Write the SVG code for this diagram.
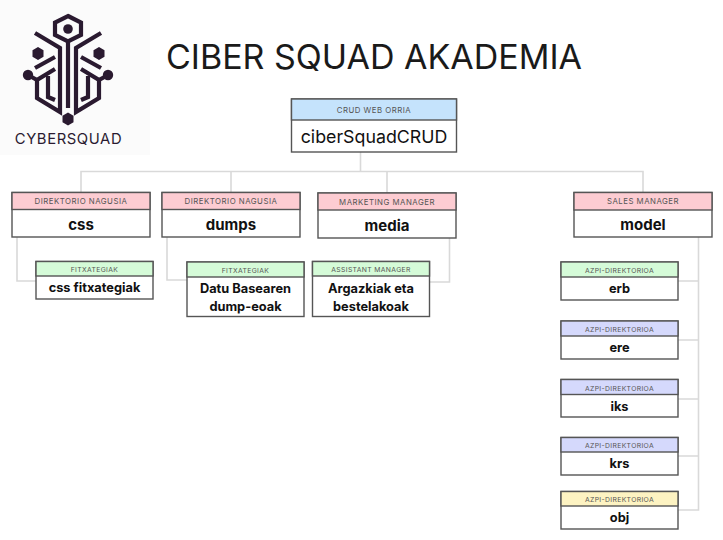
<svg xmlns="http://www.w3.org/2000/svg" width="723" height="540" viewBox="0 0 723 540">
<style>
text{font-family:Inter,"Liberation Sans",sans-serif;text-anchor:middle;fill:#111}
.box,.blue,.pink,.green,.lav,.yel{stroke:#555;stroke-width:1.4}
.box{fill:#fff}
.c{fill:none;stroke:#d9d9d9;stroke-width:1.6}
.l{font-size:7.800px;letter-spacing:.5px;fill:#555}
.s{font-size:6.800px;letter-spacing:.36px;fill:#555}
.b{font-size:15px;font-weight:700}
.m{font-size:12.800px;font-weight:700}
.blue{fill:#c5e3fc}.pink{fill:#fdccd2}.green{fill:#d5fbd8}.lav{fill:#d5d9fc}.yel{fill:#fdf3c2}
.lg{fill:none;stroke:#2a1a30;stroke-width:4.200}
.ld{fill:#2a1a30}
</style>
<rect width="723" height="540" fill="#fff"/>
<g id="logo">
<rect x="0" y="0" width="150" height="155" fill="#fbfbfb"/>
<path class="lg" d="M68 16L81 22.500V35L68 41.500L55 35V22.500Z"/>
<circle class="ld" cx="68" cy="29" r="4.800"/>
<path class="lg" d="M68 41V108"/>
<path class="lg" d="M35 33L60 48V112L37 98V80L55 69M48 76V97L55 100M35 68L55 57"/>
<path class="lg" d="M101 33L76 48V112L99 98V80L81 69M88 76V97L81 100M101 68L81 57"/>
<path class="ld" d="M38 47L43.500 50.200V56.800L38 60L32.500 56.800V50.200ZM99 47L104.500 50.200V56.800L99 60L93.500 56.800V50.200ZM68 112.500L73.500 115.700V122.300L68 125.500L62.500 122.300V115.700Z"/>
<circle class="ld" cx="28" cy="75" r="5.200"/>
<circle class="ld" cx="108" cy="75" r="5.200"/>
<path class="lg" d="M28 75L37 80M108 75L99 80"/>
<text x="68.500" y="144" style="font-size:14.800px;letter-spacing:.6px;fill:#2a1a30">CYBERSQUAD</text>
</g>
<text id="title" x="374" y="69" style="font-size:34px;fill:#1a1a1a">CIBER SQUAD AKADEMIA</text>
<g id="connectors">
<path class="c" d="M360.500 152V171.500M81 192V171.500H643V192M231 171.500V192M387 171.500V193"/>
<path class="c" d="M17 237V281H36M167 237V280H187M449.500 238V282H430"/>
<path class="c" d="M698.500 237V510H678M678 281H698.500M678 340H698.500M678 399H698.500M678 456H698.500"/>
</g>
<g id="root"><rect class="box" x="291.500" y="99" width="165" height="53"/><rect class="blue" x="291.500" y="99" width="165" height="21"/><text class="l" x="374" y="113">CRUD WEB ORRIA</text><text x="374" y="143" style="font-size:17.800px">ciberSquadCRUD</text></g>
<g id="css"><rect class="box" x="12" y="192.500" width="138" height="44.500"/><rect class="pink" x="12" y="192.500" width="138" height="17"/><text class="l" x="81" y="204">DIREKTORIO NAGUSIA</text><text class="b" x="81" y="230">css</text></g>
<g id="dumps"><rect class="box" x="162" y="192.500" width="138" height="44.500"/><rect class="pink" x="162" y="192.500" width="138" height="17"/><text class="l" x="231" y="204">DIREKTORIO NAGUSIA</text><text class="b" x="231" y="230">dumps</text></g>
<g id="media"><rect class="box" x="318" y="193" width="138" height="45"/><rect class="pink" x="318" y="193" width="138" height="17"/><text class="l" x="387" y="205">MARKETING MANAGER</text><text class="b" x="387" y="231">media</text></g>
<g id="model"><rect class="box" x="574" y="192.500" width="138" height="44.500"/><rect class="pink" x="574" y="192.500" width="138" height="17.500"/><text class="l" x="643" y="204">SALES MANAGER</text><text class="b" x="643" y="230">model</text></g>
<g id="css-fitxategiak"><rect class="box" x="36" y="261.500" width="117" height="37.500"/><rect class="green" x="36" y="261.500" width="117" height="14.500"/><text class="s" x="94.500" y="272">FITXATEGIAK</text><text class="m" x="94.500" y="292">css fitxategiak</text></g>
<g id="dump-eoak"><rect class="box" x="187" y="262" width="117" height="54.500"/><rect class="green" x="187" y="262" width="117" height="15"/><text class="s" x="245.500" y="273">FITXATEGIAK</text><text class="m" x="245.500" y="292.500">Datu Basearen</text><text class="m" x="245.500" y="310.500">dump-eoak</text></g>
<g id="argazkiak"><rect class="box" x="312.500" y="261.500" width="117" height="55"/><rect class="green" x="312.500" y="261.500" width="117" height="14.500"/><text class="s" x="371" y="272">ASSISTANT MANAGER</text><text class="m" x="371" y="292.500">Argazkiak eta</text><text class="m" x="371" y="310.500">bestelakoak</text></g>
<g id="erb"><rect class="box" x="561" y="262" width="117" height="38"/><rect class="green" x="561" y="262" width="117" height="15"/><text class="s" x="619.500" y="273">AZPI-DIREKTORIOA</text><text class="m" x="619.500" y="293">erb</text></g>
<g id="ere"><rect class="box" x="561" y="321" width="117" height="38"/><rect class="lav" x="561" y="321" width="117" height="15"/><text class="s" x="619.500" y="332">AZPI-DIREKTORIOA</text><text class="m" x="619.500" y="352">ere</text></g>
<g id="iks"><rect class="box" x="561" y="379.500" width="117" height="37.500"/><rect class="lav" x="561" y="379.500" width="117" height="15"/><text class="s" x="619.500" y="390.500">AZPI-DIREKTORIOA</text><text class="m" x="619.500" y="410.500">iks</text></g>
<g id="krs"><rect class="box" x="561" y="437.500" width="117" height="37.500"/><rect class="lav" x="561" y="437.500" width="117" height="14.500"/><text class="s" x="619.500" y="448">AZPI-DIREKTORIOA</text><text class="m" x="619.500" y="468">krs</text></g>
<g id="obj"><rect class="box" x="561" y="491.500" width="117" height="37.500"/><rect class="yel" x="561" y="491.500" width="117" height="14.500"/><text class="s" x="619.500" y="502">AZPI-DIREKTORIOA</text><text class="m" x="619.500" y="522">obj</text></g>
</svg>
